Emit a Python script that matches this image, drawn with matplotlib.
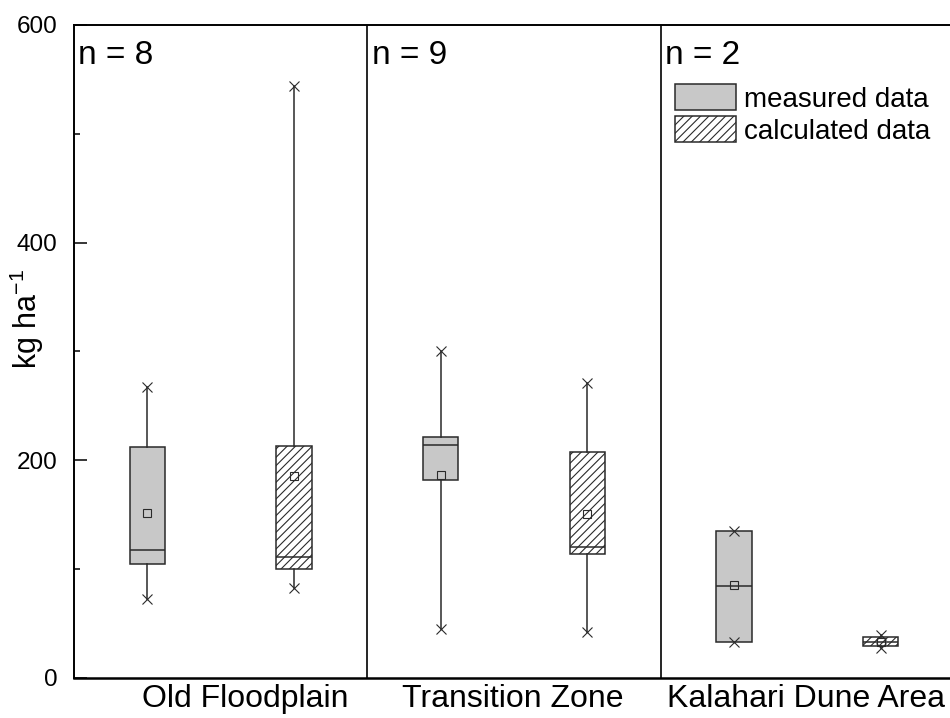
import matplotlib
matplotlib.use("Agg")
import matplotlib.pyplot as plt
from matplotlib.patches import Patch
import matplotlib.transforms as mtransforms

plt.rcParams["font.family"] = ["Liberation Sans", "DejaVu Sans"]
plt.rcParams["mathtext.fontset"] = "custom"
plt.rcParams["mathtext.rm"] = "Liberation Sans"
plt.rcParams["mathtext.it"] = "Liberation Sans"
plt.rcParams["hatch.linewidth"] = 0.8

# data (kg ha-1)
regions = ["Old Floodplain", "Transition Zone", "Kalahari Dune Area"]
n_samples = [8, 9, 2]
series = ["measured data", "calculated data"]
# order: OF measured, OF calculated, TZ measured, TZ calculated, KD measured, KD calculated
q1 = [105, 100, 182, 114, 33, 29.4]
med = [118, 111.5, 214, 120, 84.5, 33]
q3 = [212.5, 213.5, 221.5, 207.5, 135.5, 37.4]
mean = [152, 185.5, 186.5, 150.5, 85, 33]
whislo = [73, 82.5, 45, 42.5, 33, 27.6]
whishi = [267.5, 544, 300, 271, 135.5, 39.5]

stats = []
for i in range(len(q1)):
    stats.append(dict(q1=q1[i], med=med[i], q3=q3[i], mean=mean[i],
                      whislo=whislo[i], whishi=whishi[i],
                      fliers=[whislo[i], whishi[i]]))

positions = list(range(1, len(stats) + 1))
label_pos = [1.67, 3.49, 5.49]

fig = plt.figure(figsize=(9.5, 7.18), dpi=100)
ax = fig.add_axes([74 / 950, 40 / 718, 880 / 950, 653 / 718])

ec = "#2a2a2a"
bp = ax.bxp(stats, positions=positions, widths=0.24, patch_artist=True,
            showmeans=True, showcaps=False, showfliers=True,
            boxprops=dict(edgecolor=ec, linewidth=1.1),
            medianprops=dict(color=ec, linewidth=1.1),
            whiskerprops=dict(color=ec, linewidth=1.1),
            meanprops=dict(marker="s", markerfacecolor="none", markeredgecolor=ec,
                           markersize=5.5, markeredgewidth=0.8),
            flierprops=dict(marker="x", markeredgecolor=ec, markersize=7,
                            markeredgewidth=0.8, linestyle="none"))
for k, box in enumerate(bp["boxes"]):
    if k % 2 == 0:
        box.set_facecolor("#c8c8c8")
    else:
        box.set_facecolor("white")
        box.set_hatch("////")

ax.set_xlim(0.5, 6.5)
ax.set_ylim(0, 600)
ax.set_yticks([0, 200, 400, 600])
ax.set_yticks([100, 300, 500], minor=True)
ax.tick_params(axis="y", which="major", direction="in", length=9, width=1.1,
               labelsize=17.5, pad=12)
ax.tick_params(axis="y", which="minor", direction="in", length=4.5, width=1.1)
ax.set_xticks(label_pos)
ax.set_xticklabels(regions, fontsize=23)
ax.tick_params(axis="x", length=0, pad=4)

for s in ax.spines.values():
    s.set_linewidth(1.4)
ax.spines["bottom"].set_linewidth(1.8)

for xs in [2.5, 4.5]:
    ax.axvline(xs, color="black", linewidth=1.2)

trans = mtransforms.blended_transform_factory(ax.transData, ax.transAxes)
for i, n in enumerate(n_samples):
    ax.text(0.5 + 2 * i + 0.03, 0.94, f"n = {n}", fontsize=24,
            transform=trans, ha="left", va="baseline")

ax.set_ylabel("kg ha$^{-1}$", fontsize=22)
ax.yaxis.set_label_coords(-0.032, 0.55)

handles = [Patch(facecolor="#c8c8c8", edgecolor=ec, linewidth=1.1),
           Patch(facecolor="white", edgecolor=ec, linewidth=1.1, hatch="////")]
ax.legend(handles, series, loc="upper left", bbox_to_anchor=((675 - 74) / 880, (678 - 84) / 653),
          frameon=False, fontsize=20, handlelength=2.2, handleheight=1.08,
          handletextpad=0.3, labelspacing=0.12, borderpad=0, borderaxespad=0)

fig.savefig("out.png", dpi=100)
